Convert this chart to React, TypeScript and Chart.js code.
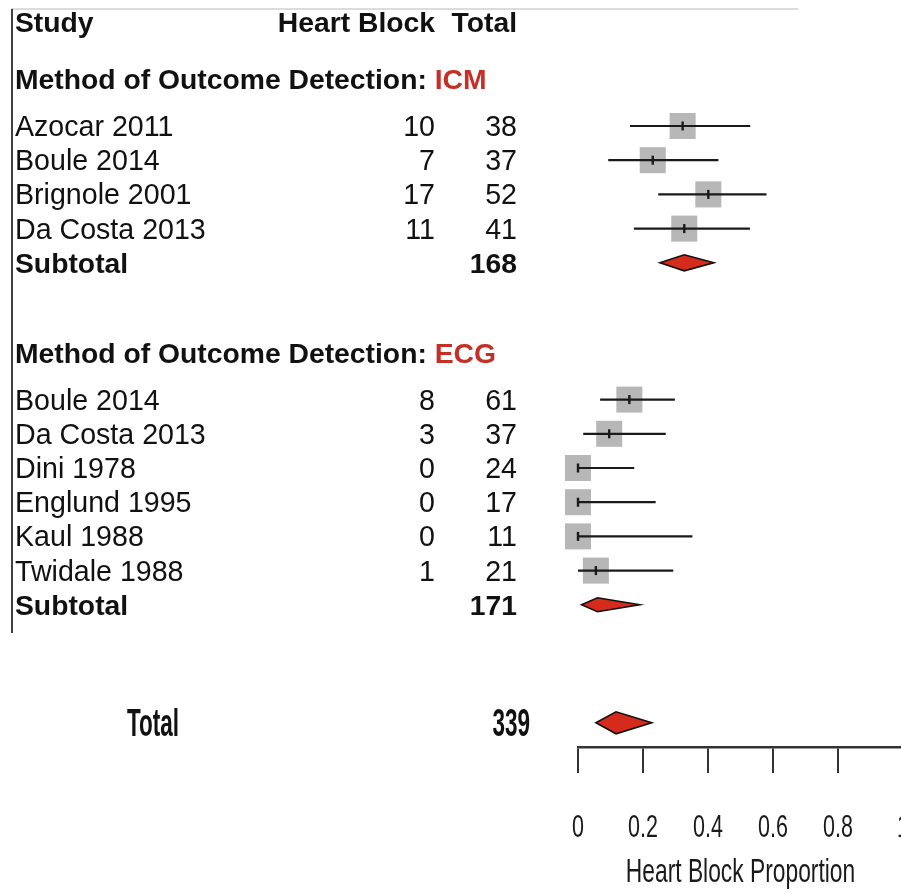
import React, { useEffect, useRef } from 'react';
import { Chart, registerables } from 'chart.js';

Chart.register(...registerables);

// ---------- data ----------
const icmStudies = ['Azocar 2011', 'Boule 2014', 'Brignole 2001', 'Da Costa 2013'];
const icmEvents = [10, 7, 17, 11];
const icmTotals = [38, 37, 52, 41];
const icmEst = [0.322, 0.23, 0.401, 0.327];
const icmLow = [0.16, 0.093, 0.247, 0.172];
const icmHigh = [0.53, 0.432, 0.58, 0.529];
const icmSubtotal = 168;
const icmPooled = [0.252, 0.327, 0.418]; // low, estimate, high

const ecgStudies = ['Boule 2014', 'Da Costa 2013', 'Dini 1978', 'Englund 1995', 'Kaul 1988', 'Twidale 1988'];
const ecgEvents = [8, 3, 0, 0, 0, 1];
const ecgTotals = [61, 37, 24, 17, 11, 21];
const ecgEst = [0.158, 0.096, 0, 0, 0, 0.055];
const ecgLow = [0.068, 0.016, 0, 0, 0, 0];
const ecgHigh = [0.298, 0.27, 0.173, 0.239, 0.352, 0.293];
const ecgSubtotal = 171;
const ecgPooled = [0.011, 0.06, 0.19];

const grandTotal = 339;
const totalPooled = [0.055, 0.117, 0.227];

const xTickValues = [0, 0.2, 0.4, 0.6, 0.8, 1];
const xTitle = 'Heart Block Proportion';
const headerStudy = 'Study';
const headerEvents = 'Heart Block';
const headerTotal = 'Total';
const groupPrefix = 'Method of Outcome Detection: ';
const groupNames = ['ICM', 'ECG'];
const subtotalLabel = 'Subtotal';
const totalLabel = 'Total';

// ---------- row layout (row index units) ----------
const ROW_HEADER = -2.04;
const ROW_ICM_HEAD = -0.37;
const icmRows = icmStudies.map((_, i) => i + 1);
const ROW_ICM_SUB = icmStudies.length + 1;
const ROW_ECG_HEAD = ROW_ICM_SUB + 2.64;
const ecgRows = ecgStudies.map((_, i) => ROW_ICM_SUB + 4 + i);
const ROW_ECG_SUB = ROW_ICM_SUB + 4 + ecgStudies.length;
const ROW_TOTAL = ROW_ECG_SUB + 3.45;

const SANS = "'Liberation Sans', Arial, Helvetica, sans-serif";
const RED = '#c62f26';
const DIAMOND = '#d62a1c';

const CANVAS_W = 963;
const CANVAS_H = 894;
const AXIS_Y = 747;
const TICK_LEN = 26;
const TICK_FONT = 21.5;
const TICK_PAD = 42.6;
const TICK_STRETCH = 1.48;
const TITLE_FONT = 22.8;
const TITLE_PAD_BOTTOM = 6.8;
const TITLE_STRETCH = 1.42;

const forestPlugin = {
  id: 'forest',
  afterDatasetsDraw(chart: any) {
    const ctx = chart.ctx as CanvasRenderingContext2D;
    const xs = chart.scales.x;
    const ys = chart.scales.y;
    ctx.save();
    const drawCI = (lo: number, est: number, hi: number, row: number) => {
      const y = ys.getPixelForValue(row);
      ctx.strokeStyle = '#1a1a1a';
      ctx.lineWidth = 2.2;
      ctx.beginPath();
      ctx.moveTo(xs.getPixelForValue(lo), y);
      ctx.lineTo(xs.getPixelForValue(hi), y);
      ctx.stroke();
      const xe = xs.getPixelForValue(est);
      ctx.lineWidth = 2.4;
      ctx.beginPath();
      ctx.moveTo(xe, y - 4.5);
      ctx.lineTo(xe, y + 4.5);
      ctx.stroke();
    };
    icmRows.forEach((r, i) => drawCI(icmLow[i], icmEst[i], icmHigh[i], r));
    ecgRows.forEach((r, i) => drawCI(ecgLow[i], ecgEst[i], ecgHigh[i], r));

    const drawDiamond = (p: number[], row: number, h: number) => {
      const y = ys.getPixelForValue(row);
      const xl = xs.getPixelForValue(p[0]);
      const xc = xs.getPixelForValue(p[1]);
      const xh = xs.getPixelForValue(p[2]);
      ctx.beginPath();
      ctx.moveTo(xl, y);
      ctx.lineTo(xc, y - h);
      ctx.lineTo(xh, y);
      ctx.lineTo(xc, y + h);
      ctx.closePath();
      ctx.fillStyle = DIAMOND;
      ctx.fill();
      ctx.strokeStyle = '#111';
      ctx.lineWidth = 1.6;
      ctx.lineJoin = 'miter';
      ctx.stroke();
    };
    drawDiamond(icmPooled, ROW_ICM_SUB, 8);
    drawDiamond(ecgPooled, ROW_ECG_SUB, 7);
    drawDiamond(totalPooled, ROW_TOTAL, 11);
    ctx.restore();
  },
};

// stretches the x-axis tick labels and title vertically (tall condensed look)
const stretchPlugin = {
  id: 'stretchAxisText',
  beforeDraw(chart: any) {
    const s = chart.scales.x;
    if (!s || s.__stretched) return;
    s.__stretched = true;
    const origLabels = s.drawLabels.bind(s);
    const origTitle = s.drawTitle.bind(s);
    s.drawLabels = (area: any) => {
      const ctx = chart.ctx as CanvasRenderingContext2D;
      const yc = s.top + TICK_LEN + TICK_PAD + (TICK_FONT * 1.2) / 2;
      ctx.save();
      ctx.translate(0, yc);
      ctx.scale(1, TICK_STRETCH);
      ctx.translate(0, -yc);
      origLabels(area);
      ctx.restore();
    };
    s.drawTitle = () => {
      const ctx = chart.ctx as CanvasRenderingContext2D;
      const yc = s.bottom - TITLE_PAD_BOTTOM - (TITLE_FONT * 1.2) / 2;
      ctx.save();
      ctx.translate(0, yc);
      ctx.scale(1, TITLE_STRETCH);
      ctx.translate(0, -yc);
      origTitle();
      ctx.restore();
    };
  },
};

const tablePlugin = {
  id: 'table',
  afterDraw(chart: any) {
    const ctx = chart.ctx as CanvasRenderingContext2D;
    const ys = chart.scales.y;
    const base = (row: number) => ys.getPixelForValue(row) + 10;
    ctx.save();

    // frame lines
    ctx.strokeStyle = '#dcdcdc';
    ctx.lineWidth = 2;
    ctx.beginPath();
    ctx.moveTo(11, 9);
    ctx.lineTo(798, 9);
    ctx.stroke();
    ctx.strokeStyle = '#111';
    ctx.lineWidth = 1.6;
    ctx.beginPath();
    ctx.moveTo(12, 9);
    ctx.lineTo(12, 633);
    ctx.stroke();

    const colName = 15;
    const colEvents = 435;
    const colTotal = 517;
    ctx.fillStyle = '#111';
    ctx.textBaseline = 'alphabetic';

    // header
    ctx.font = `bold 28.3px ${SANS}`;
    ctx.textAlign = 'left';
    ctx.fillText(headerStudy, colName, base(ROW_HEADER));
    ctx.textAlign = 'right';
    ctx.fillText(headerEvents, colEvents, base(ROW_HEADER));
    ctx.fillText(headerTotal, colTotal, base(ROW_HEADER));

    const heading = (name: string, row: number) => {
      ctx.font = `bold 28.3px ${SANS}`;
      ctx.textAlign = 'left';
      ctx.fillStyle = '#111';
      ctx.fillText(groupPrefix, colName, base(row));
      const w = ctx.measureText(groupPrefix).width;
      ctx.fillStyle = RED;
      ctx.fillText(name, colName + w, base(row));
      ctx.fillStyle = '#111';
    };

    const studyRows = (names: string[], ev: number[], tot: number[], rows: number[]) => {
      ctx.font = `28.6px ${SANS}`;
      names.forEach((n, i) => {
        ctx.textAlign = 'left';
        ctx.fillText(n, colName, base(rows[i]));
        ctx.textAlign = 'right';
        ctx.fillText(String(ev[i]), colEvents, base(rows[i]));
        ctx.fillText(String(tot[i]), colTotal, base(rows[i]));
      });
    };

    const subtotal = (n: number, row: number) => {
      ctx.font = `bold 28.3px ${SANS}`;
      ctx.textAlign = 'left';
      ctx.fillText(subtotalLabel, colName, base(row));
      ctx.textAlign = 'right';
      ctx.fillText(String(n), colTotal, base(row));
    };

    heading(groupNames[0], ROW_ICM_HEAD);
    studyRows(icmStudies, icmEvents, icmTotals, icmRows);
    subtotal(icmSubtotal, ROW_ICM_SUB);

    heading(groupNames[1], ROW_ECG_HEAD);
    studyRows(ecgStudies, ecgEvents, ecgTotals, ecgRows);
    subtotal(ecgSubtotal, ROW_ECG_SUB);

    // overall total (tall, condensed look)
    const yb = ys.getPixelForValue(ROW_TOTAL) + 13;
    ctx.font = `bold 22.5px ${SANS}`;
    ctx.save();
    ctx.translate(127, yb);
    ctx.scale(1, 1.75);
    ctx.textAlign = 'left';
    ctx.fillText(totalLabel, 0, 0);
    ctx.restore();
    ctx.save();
    ctx.translate(530, yb);
    ctx.scale(1, 1.75);
    ctx.textAlign = 'right';
    ctx.fillText(String(grandTotal), 0, 0);
    ctx.restore();

    ctx.restore();
  },
};

export default function App() {
  const ref = useRef<HTMLCanvasElement | null>(null);

  useEffect(() => {
    document.documentElement.style.overflow = 'hidden';
    document.body.style.margin = '0';
    document.body.style.overflow = 'hidden';
    document.body.style.background = '#ffffff';
    if (!ref.current) return;

    const squares = [
      ...icmRows.map((r, i) => ({ x: icmEst[i], y: r })),
      ...ecgRows.map((r, i) => ({ x: ecgEst[i], y: r })),
    ];

    const chart = new Chart(ref.current, {
      type: 'scatter',
      data: {
        datasets: [
          {
            data: squares,
            pointStyle: 'rect',
            pointRadius: 18.4,
            pointHoverRadius: 18.4,
            backgroundColor: '#b7b7b7',
            borderWidth: 0,
            clip: false,
          } as any,
        ],
      },
      options: {
        responsive: false,
        animation: false,
        events: [],
        layout: {
          autoPadding: false,
          padding: { left: 578, right: CANVAS_W - 903, top: 0, bottom: 0 },
        },
        plugins: {
          legend: { display: false },
          tooltip: { enabled: false },
          title: { display: false },
        },
        scales: {
          x: {
            type: 'linear',
            position: 'bottom',
            min: 0,
            max: 1,
            afterBuildTicks: (s: any) => {
              s.ticks = xTickValues.map((v) => ({ value: v }));
            },
            afterFit: (s: any) => {
              s.height = CANVAS_H - AXIS_Y;
            },
            ticks: {
              color: '#1a1a1a',
              font: { family: SANS, size: TICK_FONT },
              padding: TICK_PAD,
              maxRotation: 0,
              autoSkip: false,
              callback: (v: any) => String(v),
            },
            grid: {
              drawOnChartArea: false,
              drawTicks: true,
              tickLength: TICK_LEN,
              color: '#333',
              lineWidth: 2,
            },
            border: { display: true, color: '#333', width: 2.5 },
            title: {
              display: true,
              text: xTitle,
              color: '#1a1a1a',
              font: { family: SANS, size: TITLE_FONT },
              padding: { top: 0, bottom: TITLE_PAD_BOTTOM },
            },
          },
          y: {
            type: 'linear',
            display: false,
            reverse: true,
            min: -2.684,
            max: 19.158,
          },
        },
      },
      plugins: [stretchPlugin, forestPlugin, tablePlugin],
    } as any);

    return () => chart.destroy();
  }, []);

  return (
    <div style={{ width: CANVAS_W, height: CANVAS_H, overflow: 'hidden', background: '#fff' }}>
      <canvas ref={ref} width={CANVAS_W} height={CANVAS_H} style={{ display: 'block' }} />
    </div>
  );
}
